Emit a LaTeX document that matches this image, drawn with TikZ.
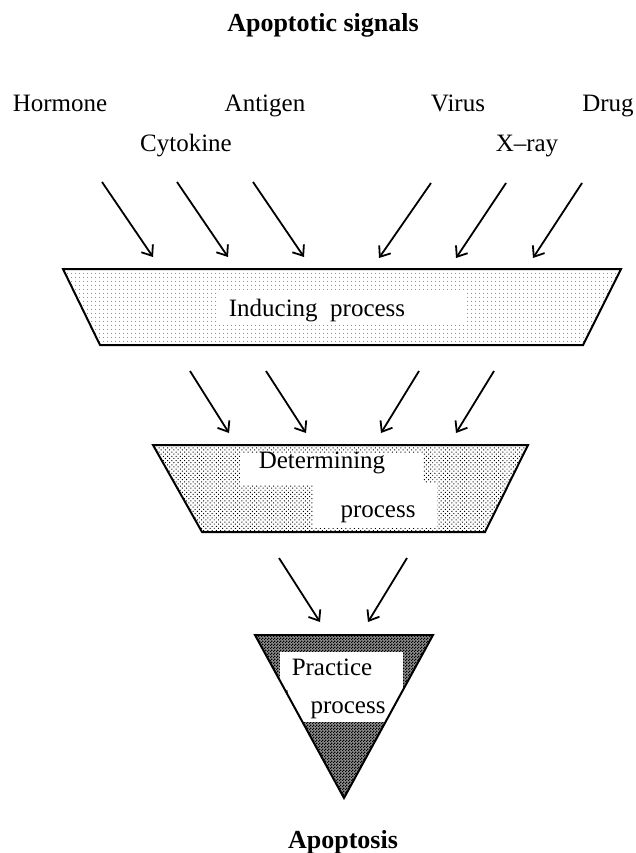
\documentclass[tikz,border=0pt]{standalone}
\usepackage{fontspec}
\setmainfont{Liberation Serif}
\usetikzlibrary{arrows.meta,patterns,patterns.meta}
\pgfdeclarepatternformonly{finechecker}{\pgfqpoint{0pt}{0pt}}{\pgfqpoint{3pt}{3pt}}{\pgfqpoint{3pt}{3pt}}{%
  \pgfpathrectangle{\pgfqpoint{0pt}{0pt}}{\pgfqpoint{1.5pt}{1.5pt}}%
  \pgfpathrectangle{\pgfqpoint{1.5pt}{1.5pt}}{\pgfqpoint{1.5pt}{1.5pt}}%
  \pgfusepath{fill}}
\begin{document}
\begin{tikzpicture}[x=1pt,y=-1pt,
  lbl/.style={font=\fontsize{25}{30}\selectfont, inner sep=0pt, anchor=base},
  ttl/.style={font=\fontsize{26}{30}\selectfont\bfseries, inner sep=0pt, anchor=base},
  sig/.style={line width=1.8pt, -{Straight Barb[length=9pt,width=14pt,line width=1.8pt]}},
  outline/.style={line width=2pt, line join=miter},
  hole/.style={fill=white, draw=none}]
\useasboundingbox (0,0) rectangle (636,853);

% title and signals
\node[ttl] (title) at (323,32) {Apoptotic signals};
\node[lbl] (hormone) at (60,112) {Hormone};
\node[lbl] (antigen) at (265,112) {Antigen};
\node[lbl] (virus) at (458,112) {Virus};
\node[lbl] (drug) at (608,112) {Drug};
\node[lbl] (cytokine) at (186,152) {Cytokine};
\node[lbl] (xray) at (527,152) {X--ray};

% Inducing process
\path[pattern={Dots[radius=0.55pt,distance=4pt]}, pattern color=black!75]
  (63,269) -- (621,269) -- (583,345) -- (100,345) -- cycle;
\begin{scope}
  \clip (63,269) -- (621,269) -- (583,345) -- (100,345) -- cycle;
  \fill[hole] (218,292) rectangle (465,323);
\end{scope}
\draw[outline] (63,269) -- (621,269) -- (583,345) -- (100,345) -- cycle;
\node[lbl] (inducing) at (317,316) {Inducing~ process};

% Determining process
\path[pattern={Dots[radius=0.7pt,distance=3pt,angle=45]}, pattern color=black]
  (153,445) -- (528,445) -- (485,532) -- (202,532) -- cycle;
\begin{scope}
  \clip (153,445) -- (528,445) -- (485,532) -- (202,532) -- cycle;
  \fill[hole] (240,453) rectangle (423,485);
  \fill[hole] (313,483) rectangle (437,528);
\end{scope}
\draw[outline] (153,445) -- (528,445) -- (485,532) -- (202,532) -- cycle;
\node[lbl] (determining) at (322,468) {Determining};
\node[lbl] (detproc) at (378,517) {process};

% Practice process
\path[fill=black!45] (255,635) -- (433,635) -- (344,798) -- cycle;
\path[pattern=finechecker, pattern color=black]
  (255,635) -- (433,635) -- (344,798) -- cycle;
\begin{scope}
  \clip (255,635) -- (433,635) -- (344,798) -- cycle;
  \fill[hole] (280,652) rectangle (403,690);
  \fill[hole] (288,688) rectangle (445,722);
\end{scope}
\draw[outline] (255,635) -- (433,635) -- (344,798) -- cycle;
\node[lbl] (practice) at (332,675) {Practice};
\node[lbl] (pracproc) at (348,713) {process};

\node[ttl] (apoptosis) at (343,848) {Apoptosis};

% arrows row 1
\coordinate (a1s) at (102,182); \coordinate (a1e) at (153,257);
\coordinate (a2s) at (177,182); \coordinate (a2e) at (228,257);
\coordinate (a3s) at (253,182); \coordinate (a3e) at (304,257);
\coordinate (a4s) at (431,183); \coordinate (a4e) at (379,258);
\coordinate (a5s) at (506,183); \coordinate (a5e) at (456,258);
\coordinate (a6s) at (582,183); \coordinate (a6e) at (533,258);
\foreach \i in {1,...,6} \draw[sig] (a\i s) -- (a\i e);

% arrows row 2
\coordinate (b1s) at (190,371); \coordinate (b1e) at (229,433);
\coordinate (b2s) at (266,371); \coordinate (b2e) at (306,433);
\coordinate (b3s) at (419,371); \coordinate (b3e) at (381,433);
\coordinate (b4s) at (494,371); \coordinate (b4e) at (456,433);
\foreach \i in {1,...,4} \draw[sig] (b\i s) -- (b\i e);

% arrows row 3
\coordinate (c1s) at (279,558); \coordinate (c1e) at (320,622);
\coordinate (c2s) at (407,558); \coordinate (c2e) at (368,622);
\foreach \i in {1,2} \draw[sig] (c\i s) -- (c\i e);
\end{tikzpicture}
\end{document}
